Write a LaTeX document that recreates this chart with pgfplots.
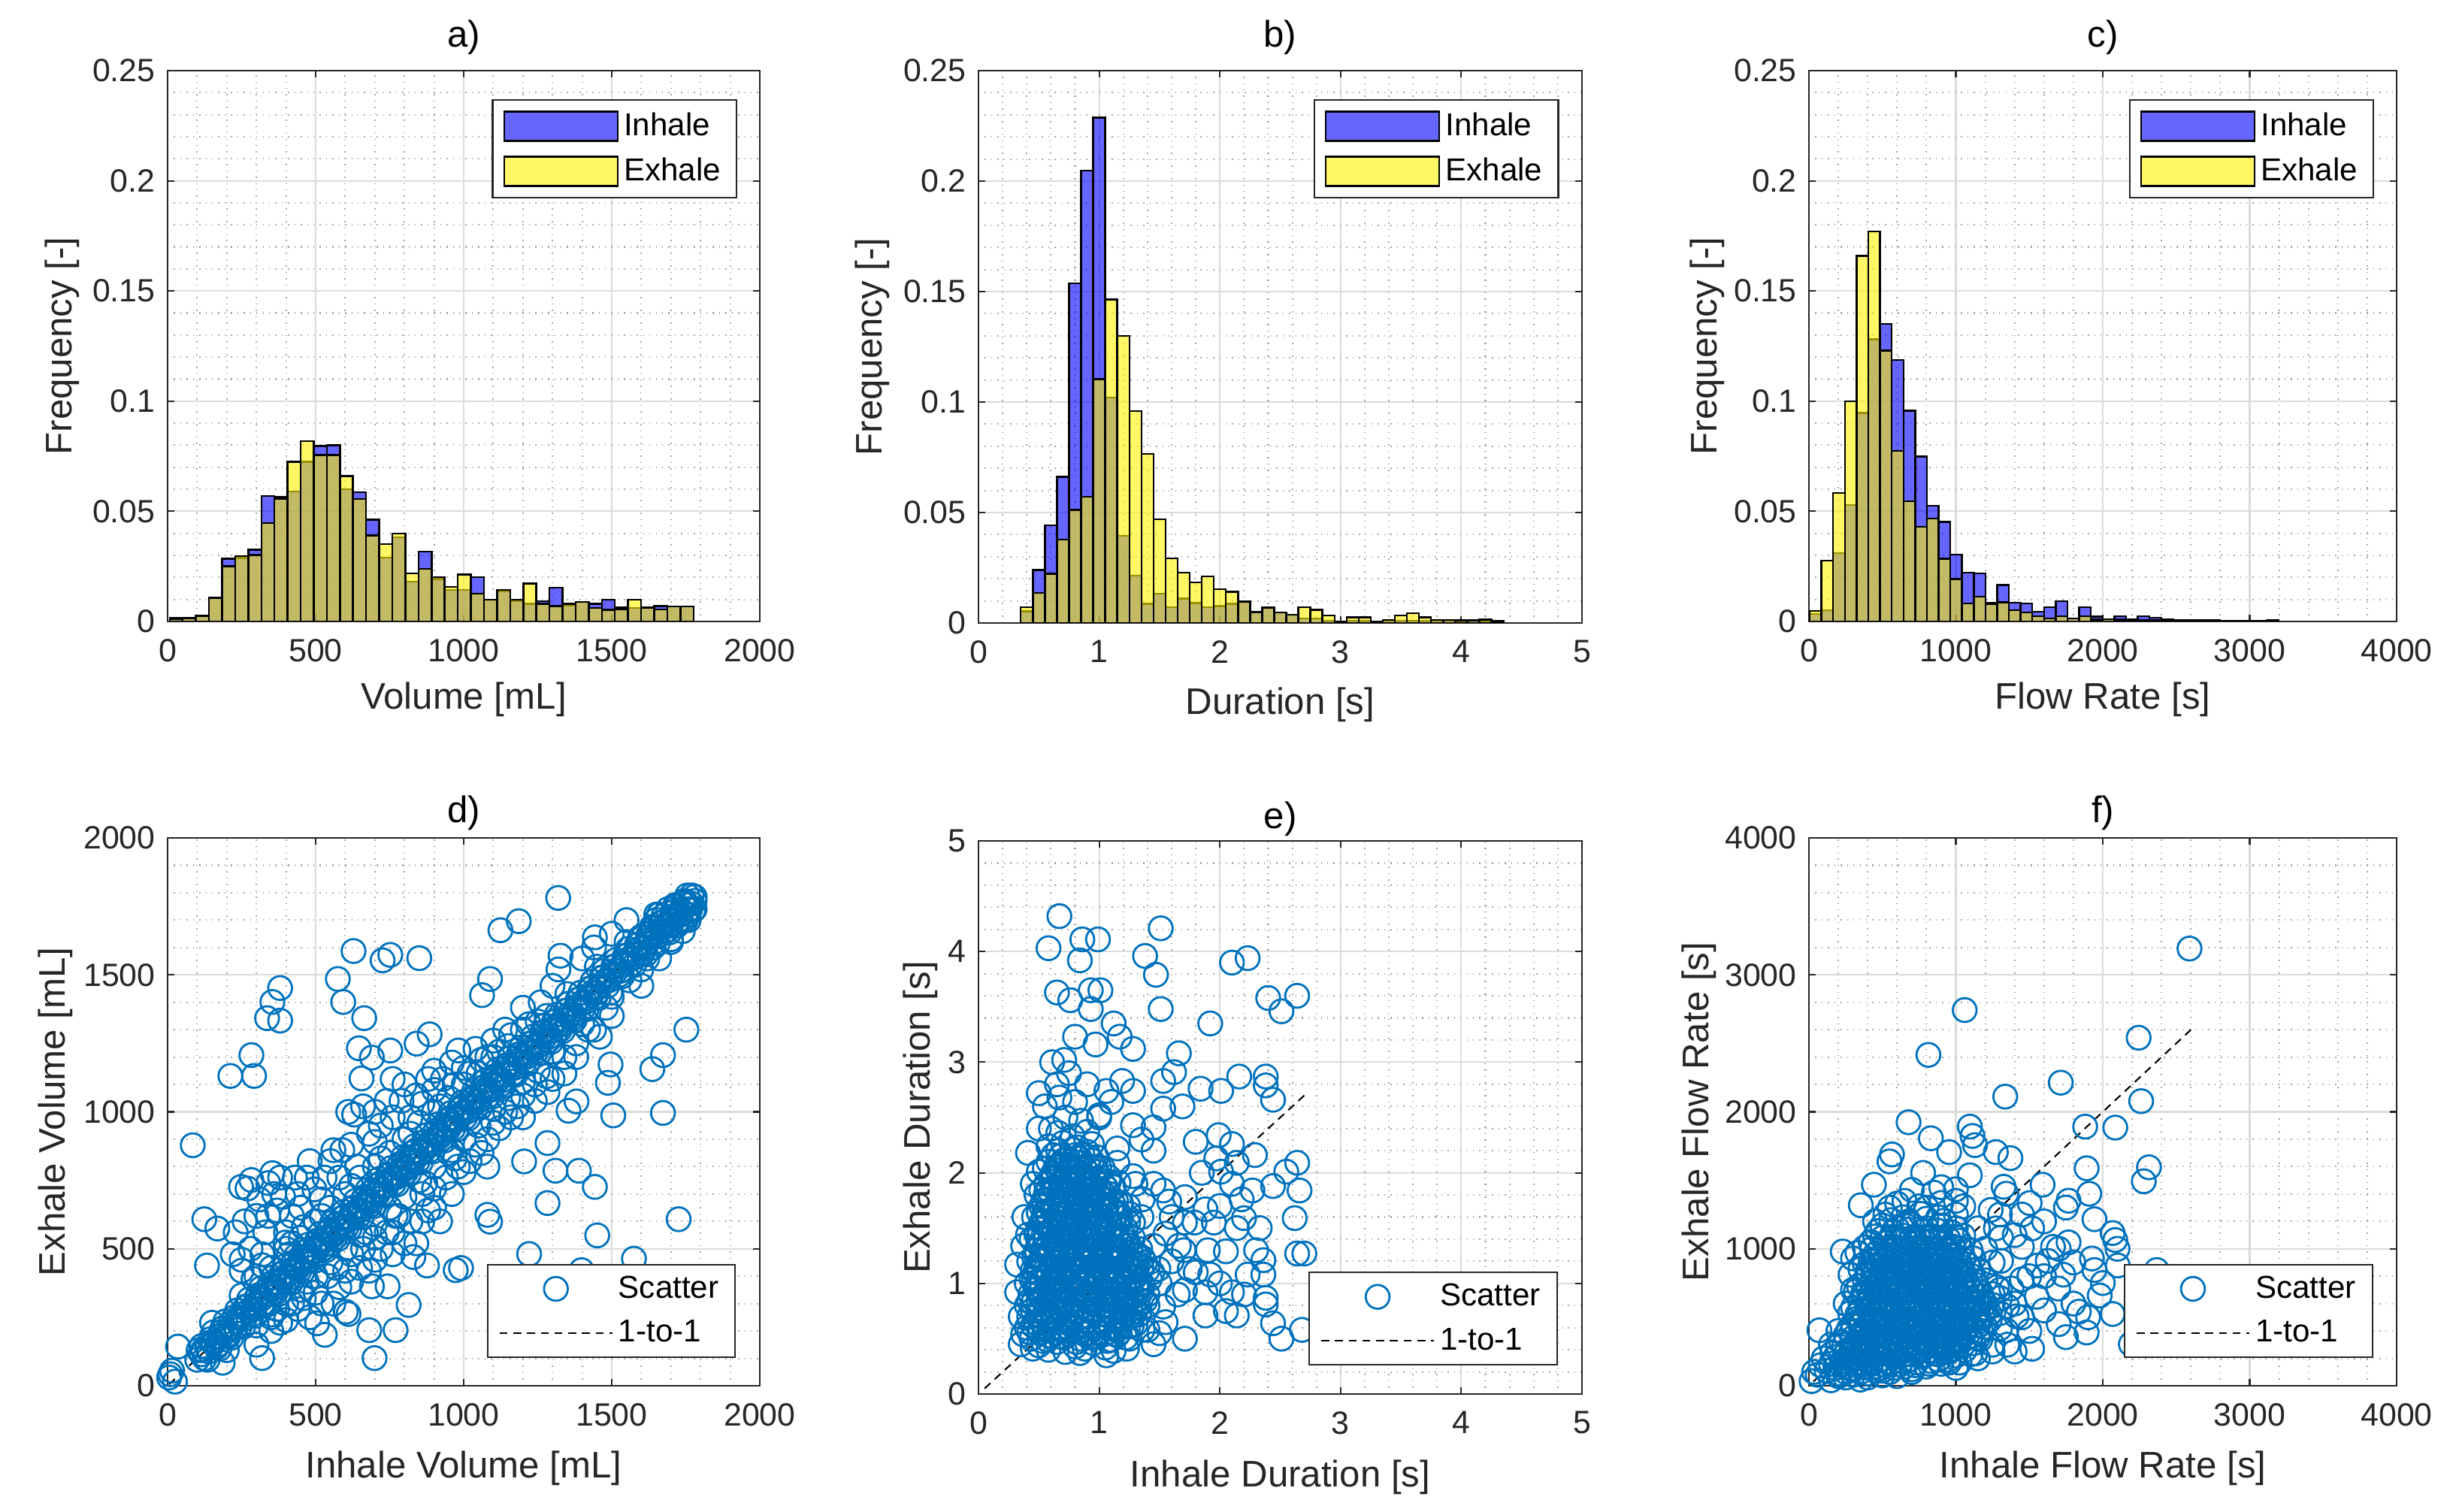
\documentclass[border=0pt]{standalone}
\usepackage{fontspec}
\setmainfont{Liberation Sans}
\usepackage{pgfplots}
\usepackage{pgfplotstable}
\pgfplotsset{compat=1.18}
\definecolor{mblue}{rgb}{0,0.447,0.741}
\definecolor{axgray}{rgb}{0.15,0.15,0.15}

\pgfplotstableread{
e inh exh
7 0.0017 0.0010
51.2 0.0015 0.0015
95.5 0.0025 0.0025
139.7 0.0110 0.0105
183.9 0.0284 0.0250
228.2 0.0288 0.0296
272.4 0.0325 0.0302
316.6 0.0569 0.0447
360.8 0.0566 0.0557
405.1 0.0590 0.0724
449.3 0.0725 0.0819
493.5 0.0797 0.0755
537.8 0.0800 0.0755
582.0 0.0600 0.0660
626.2 0.0587 0.0556
670.5 0.0462 0.0391
714.7 0.0290 0.0351
758.9 0.0382 0.0399
803.1 0.0181 0.0219
847.4 0.0317 0.0239
891.6 0.0193 0.0202
935.8 0.0144 0.0156
980.1 0.0144 0.0213
1024.3 0.0202 0.0127
1068.5 0.0099 0.0099
1112.8 0.0138 0.0144
1157.0 0.0092 0.0099
1201.2 0.0080 0.0173
1245.4 0.0092 0.0080
1289.7 0.0153 0.0070
1333.9 0.0072 0.0080
1378.1 0.0089 0.0089
1422.4 0.0080 0.0061
1466.6 0.0099 0.0053
1510.8 0.0063 0.0055
1555.1 0.0061 0.0099
1599.3 0.0063 0.0063
1643.5 0.0070 0.0055
1687.7 0.0069 0.0069
1732.0 0.0069 0.0069
1776.2 0 0
}\histA

\pgfplotstableread{
e inh exh
0.35 0.0052 0.0072
0.45 0.0240 0.0136
0.55 0.0443 0.0222
0.65 0.0662 0.0378
0.75 0.1538 0.0512
0.85 0.2047 0.0572
0.95 0.2288 0.1103
1.05 0.1020 0.1464
1.15 0.0395 0.1300
1.25 0.0214 0.0959
1.35 0.0086 0.0766
1.45 0.0133 0.0469
1.55 0.0072 0.0293
1.65 0.0110 0.0228
1.75 0.0090 0.0184
1.85 0.0072 0.0210
1.95 0.0076 0.0153
2.05 0.0086 0.0141
2.15 0.0098 0.0095
2.25 0.0050 0.0050
2.35 0.0069 0.0069
2.45 0.0047 0.0047
2.55 0.0038 0.0038
2.65 0.0020 0.0072
2.75 0.0020 0.0059
2.85 0.0010 0.0034
2.95 0.0007 0.0007
3.05 0.0010 0.0026
3.15 0.0010 0.0026
3.25 0.0005 0.0007
3.35 0.0010 0.0014
3.45 0.0010 0.0034
3.55 0.0010 0.0045
3.65 0.0010 0.0026
3.75 0.0010 0.0014
3.85 0.0010 0.0014
3.95 0.0005 0.0012
4.05 0.0010 0.0012
4.15 0.0005 0.0015
4.25 0.0005 0.0008
4.35 0 0
}\histB

\pgfplotstableread{
e inh exh
5 0.0035 0.0048
84.75 0.0051 0.0276
164.5 0.0310 0.0583
244.25 0.0529 0.1000
324 0.0946 0.1660
403.75 0.1280 0.1770
483.5 0.1350 0.1229
563.25 0.1186 0.0775
643 0.0956 0.0545
722.75 0.0748 0.0430
802.5 0.0525 0.0468
882.25 0.0452 0.0284
962 0.0304 0.0192
1041.75 0.0222 0.0081
1121.5 0.0219 0.0112
1201.25 0.0085 0.0080
1281 0.0166 0.0087
1360.75 0.0085 0.0051
1440.5 0.0081 0.0040
1520.25 0.0044 0.0024
1600 0.0065 0.0013
1679.75 0.0092 0.0024
1759.5 0.0013 0.0013
1839.25 0.0065 0.0024
1919 0.0022 0.0008
1998.75 0.0010 0.0010
2078.5 0.0024 0.0008
2158.25 0.0008 0.0008
2238 0.0024 0.0005
2317.75 0.0017 0.0005
2397.5 0.0008 0.0005
2477.25 0.0005 0.0005
2557 0.0005 0.0003
2636.75 0.0005 0.0003
2716.5 0.0003 0.0005
2796.25 0.0003 0.0003
2876 0.0003 0.0003
2955.75 0.0003 0.0003
3035.5 0.0002 0.0002
3115.25 0.0003 0.0005
3195 0 0
}\histC

\pgfplotsset{
 myaxis/.style={
  scale only axis,
  axis line style={axgray, line width=0.6pt},
  every tick/.style={axgray, line width=0.6pt},
  tick align=inside,
  major tick length=0.09cm,
  minor tick length=0pt,
  grid=both,
  major grid style={solid, black!14, line width=0.6pt},
  minor grid style={dotted, black!35, line width=0.6pt},
  minor x tick num=4, minor y tick num=4,
  scaled ticks=false,
  /pgf/number format/assume math mode=true,
  /pgf/number format/1000 sep={},
  tick label style={font=\fontsize{12.2}{14}\selectfont, text=axgray},
  xticklabel style={yshift=-0.11cm},
  yticklabel style={xshift=-0.04cm},
  label style={font=\fontsize{14}{16}\selectfont, text=axgray},
  title style={font=\fontsize{14}{16}\selectfont, text=black, at={(0.5,1.06)}, anchor=center, yshift=-6pt},
  legend cell align=left,
  legend style={draw=axgray, line width=0.6pt, fill=white, font=\fontsize{12}{14}\selectfont, text=black},
 },
 hist/.style={myaxis, ymin=0, ymax=0.25, ytick={0,0.05,0.1,0.15,0.2,0.25},
  yticklabel style={/pgf/number format/fixed, /pgf/number format/precision=2},
  ylabel={Frequency [-]},
  legend style={row sep=0.1cm, inner xsep=0.14cm, inner ysep=0.1cm, at={(0.962,0.948)}, anchor=north east},
 },
 inhbar/.style={ybar interval, fill=blue, fill opacity=0.6, draw=black, line width=0.7pt,
  legend image code/.code={\draw[##1] (0cm,-0.195cm) rectangle (1.51cm,0.195cm);}},
 exhbar/.style={ybar interval, fill=yellow, fill opacity=0.6, draw=black, line width=0.7pt,
  legend image code/.code={\draw[##1] (0cm,-0.195cm) rectangle (1.51cm,0.195cm);}},
 scat/.style={only marks, mark=o, mark size=4.5pt, color=mblue, line width=0.8pt,
  legend image code/.code={\draw[mark repeat=2,mark phase=2,##1] plot coordinates {(0cm,0cm) (0.75cm,0cm) (1.5cm,0cm)};}},
 oneline/.style={black, line width=0.6pt, dash pattern=on 3pt off 2.2pt,
  legend image code/.code={\draw[##1] (0cm,0cm) -- (1.5cm,0cm);}},
 scleg/.style={legend style={row sep=0.1cm, inner xsep=0.15cm, inner ysep=0.08cm, at={(0.96,0.051)}, anchor=south east}},
}

\begin{document}
\begin{tikzpicture}
\useasboundingbox (0,0) rectangle (32.68cm,20.11cm);

% ---------------- a ----------------
\begin{axis}[hist, at={(2.23cm,11.84cm)}, anchor=south west, width=7.88cm, height=7.33cm,
  xmin=0, xmax=2000, xtick={0,500,1000,1500,2000},
  xlabel={Volume [mL]}, title={a)},
  xlabel style={at={(axis description cs:0.5,-0.142)}, anchor=center},
  ylabel style={at={(axis description cs:-0.178,0.5)}, anchor=center}]
\addplot[inhbar] table[x=e, y=inh] {\histA};
\addplot[exhbar] table[x=e, y=exh] {\histA};
\legend{Inhale, Exhale}
\end{axis}

% ---------------- b ----------------
\begin{axis}[hist, at={(13.02cm,11.82cm)}, anchor=south west, width=8.03cm, height=7.35cm,
  xmin=0, xmax=5, xtick={0,1,2,3,4,5},
  xlabel={Duration [s]}, title={b)},
  xlabel style={at={(axis description cs:0.5,-0.148)}, anchor=center},
  ylabel style={at={(axis description cs:-0.176,0.5)}, anchor=center}]
\addplot[inhbar] table[x=e, y=inh] {\histB};
\addplot[exhbar] table[x=e, y=exh] {\histB};
\legend{Inhale, Exhale}
\end{axis}

% ---------------- c ----------------
\begin{axis}[hist, at={(24.07cm,11.84cm)}, anchor=south west, width=7.82cm, height=7.33cm,
  xmin=0, xmax=4000, xtick={0,1000,2000,3000,4000},
  xlabel={Flow Rate [s]}, title={c)},
  xlabel style={at={(axis description cs:0.5,-0.142)}, anchor=center},
  ylabel style={at={(axis description cs:-0.173,0.5)}, anchor=center}]
\addplot[inhbar] table[x=e, y=inh] {\histC};
\addplot[exhbar] table[x=e, y=exh] {\histC};
\legend{Inhale, Exhale}
\end{axis}

% ---------------- d ----------------
\begin{axis}[myaxis, scleg, at={(2.23cm,1.67cm)}, anchor=south west, width=7.88cm, height=7.29cm,
  xmin=0, xmax=2000, ymin=0, ymax=2000,
  xtick={0,500,1000,1500,2000}, ytick={0,500,1000,1500,2000},
  xlabel={Inhale Volume [mL]}, ylabel={Exhale Volume [mL]}, title={d)},
  title style={at={(0.5,1.045)}},
  xlabel style={at={(axis description cs:0.5,-0.15)}, anchor=center},
  ylabel style={at={(axis description cs:-0.19,0.5)}, anchor=center}]
\addplot[scat] coordinates {
(85,878) (212,1131) (292,1131) (283,1207) (336,1342) (380,1333) (354,1401) (380,1452)
(628,1587) (726,1553) (752,1573) (850,1561) (575,1485) (593,1401) (664,1342) (646,1232)
(690,1198) (752,1224) (841,1249) (885,1283) (655,1122) (1319,1781) (1186,1696) (1124,1663)
(1089,1485) (1062,1426) (1327,1570) (1443,1637) (1460,1274) (1496,1173) (1487,1106) (1505,987)
(1637,1156) (1673,1207) (1752,1300) (1673,996) (1726,608) (1451,549) (1575,464) (1221,481)
(1398,422) (1443,726) (1389,785) (1310,785) (1283,667) (1283,886) (1204,819) (1354,1004)
(1381,1038) (1283,1072) (982,1224) (991,430) (973,422) (1089,599) (1080,624) (876,439)
(814,295) (699,101) (681,203) (770,203) (531,186) (505,228) (602,270) (611,262)
(743,363) (690,363) (319,101) (186,84) (35,143) (9,42) (124,608) (168,574)
(133,439) (248,726) (283,751) (354,776) (478,473) (496,717) (398,523)
(5,30) (15,55) (25,15)
(100,95) (120,130) (140,125) (150,160) (170,150) (180,195) (200,185) (210,225) (230,215) (240,250)
(260,245) (270,290) (290,280) (300,320) (320,300) (330,345) (350,335) (360,380) (380,365) (390,410)
(410,395) (420,440) (440,430) (450,470) (470,455) (480,500) (500,490) (510,530) (530,515) (540,560)
(560,550) (570,590) (590,575) (600,620) (620,610) (630,650) (650,640) (660,680) (680,670) (690,710)
(710,700) (720,740) (740,730) (750,770) (770,760) (780,800) (800,790) (810,830) (830,820) (840,860)
(860,850) (870,890) (890,880) (900,920) (920,910) (930,950) (950,940) (960,980) (980,970) (990,1010)
(1010,1000) (1030,1045) (1050,1040) (1070,1090) (1090,1080) (1110,1130) (1130,1115) (1150,1170)
(1170,1160) (1190,1210) (1210,1200) (1230,1250) (1250,1240) (1270,1290) (1290,1275) (1310,1330)
(1330,1320) (1350,1370) (1370,1355) (1390,1410) (1410,1400) (1430,1450) (1450,1435) (1470,1490)
(1490,1480) (1510,1530) (1530,1515) (1550,1570) (1570,1560) (1590,1610) (1610,1600) (1630,1650)
(1650,1640) (1670,1690) (1690,1680) (1710,1730) (1730,1720) (1750,1765) (1770,1760) (1780,1785)
(1760,1740) (1720,1750) (1680,1660) (1640,1670)
(105,130) (125,100) (145,170) (165,140) (185,210) (205,180) (225,250) (245,220) (265,290) (285,260)
(305,330) (325,300) (345,370) (365,340) (385,410) (405,380) (425,450) (445,420) (465,490) (485,460)
(505,530) (525,500) (545,570) (565,540) (585,610) (605,580) (625,650) (645,620) (665,690) (685,660)
(705,730) (725,700) (745,770) (765,740) (785,810) (805,780) (825,850) (845,820) (865,890) (885,860)
(905,930) (925,900) (945,970) (965,940) (985,1010) (1005,980) (1025,1050) (1045,1020) (1065,1090)
(1085,1060) (1105,1130) (1125,1100) (1145,1170) (1165,1140) (1185,1210) (1205,1180) (1225,1250)
(1245,1220) (1265,1290) (1285,1260) (1305,1330) (1325,1300) (1345,1370) (1365,1340) (1385,1410)
(1405,1380) (1425,1450) (1445,1420) (1465,1490) (1485,1460) (1505,1530) (1525,1500) (1545,1570)
(1565,1540) (1585,1610) (1605,1580) (1625,1650) (1645,1620) (1665,1690) (1685,1660) (1705,1730)
(1725,1700) (1745,1770) (1765,1740)
(115,145) (135,95) (155,195) (175,135) (195,235) (215,175) (235,275) (255,215) (275,315) (295,255)
(315,355) (335,295) (355,395) (375,335) (395,435) (415,375) (435,475) (455,415) (475,515) (495,455)
(515,555) (535,495) (555,595) (575,535) (595,635) (615,575) (635,675) (655,615) (675,715) (695,655)
(715,755) (735,695) (755,795) (775,735) (795,835) (815,775) (835,875) (855,815) (875,915) (895,855)
(915,955) (935,895) (955,995) (975,935) (995,1035) (1015,975) (1035,1075) (1055,1015) (1075,1115)
(1095,1055) (1115,1155) (1135,1095) (1155,1195) (1175,1135) (1195,1235) (1215,1175) (1235,1275)
(1255,1215) (1275,1315) (1295,1255) (1315,1355) (1335,1295) (1355,1395) (1375,1335) (1395,1435)
(1415,1375) (1435,1475) (1455,1415) (1475,1515) (1495,1435) (1515,1555) (1535,1495) (1555,1595)
(1575,1535) (1595,1635) (1615,1575) (1635,1675) (1655,1615) (1675,1715) (1695,1655) (1715,1755)
(1735,1695) (1755,1790) (1775,1735)
(115,115) (135,140) (155,155) (175,180) (195,195) (215,215) (235,235) (255,260) (275,275) (295,295)
(315,315) (335,335) (355,355) (375,375) (395,395) (415,415) (435,435) (455,455) (475,475) (495,495)
(515,515) (535,535) (555,555) (575,575) (595,595) (615,615) (635,635) (655,655) (675,675) (695,695)
(715,715) (735,735) (755,755) (775,775) (795,795) (815,815) (835,835) (855,855) (875,875) (895,895)
(915,915) (935,935) (955,955) (975,975) (995,995) (1015,1015) (1035,1035) (1055,1055) (1075,1075)
(1095,1095) (1115,1115) (1135,1135) (1155,1155) (1175,1175) (1195,1195) (1215,1215) (1235,1235)
(1255,1255) (1275,1275) (1295,1295) (1315,1315) (1335,1335) (1355,1355) (1375,1375) (1395,1395)
(1415,1415) (1435,1435) (1455,1455) (1475,1475) (1495,1495) (1515,1515) (1535,1535) (1555,1555)
(1575,1575) (1595,1595) (1615,1615) (1635,1635) (1655,1655) (1675,1675) (1695,1695) (1715,1715)
(1735,1735) (1755,1755)
(300,400) (350,250) (400,500) (450,350) (500,600) (550,450) (600,700) (650,550) (700,800) (750,650)
(800,900) (850,750) (900,1000) (950,850) (1000,1100) (1050,950) (1100,1200) (1150,1050) (1200,1300)
(1250,1150) (320,440) (370,280) (420,520) (470,380) (520,620) (570,430) (620,730) (670,560) (720,830)
(770,620) (820,920) (870,740) (920,1020) (970,830)
(150,230) (200,130) (250,330) (300,220) (350,430) (400,300) (450,540) (500,400) (550,650) (600,500)
(650,760) (700,590) (750,850) (800,690) (850,960) (900,800) (950,1050) (1000,900) (1050,1140)
(1100,1010) (1150,1240) (1200,1110) (1250,1330) (1300,1220) (1350,1430) (1400,1320) (1450,1530)
(1500,1420) (1550,1620) (1600,1520) (1650,1720) (1700,1630) (1750,1700) (1770,1790)
(220,480) (250,420) (270,720) (300,620) (330,560) (360,700) (380,760) (420,620) (440,700) (460,580)
(480,820) (520,680) (560,860) (580,760) (620,880) (640,800) (680,920) (700,1000) (740,1040) (760,980)
(800,1100) (840,1060) (880,1120) (900,1150) (960,1180) (1000,1160) (1040,1230) (1060,1190) (1100,1260)
(1140,1300) (1200,1380) (1260,1400) (1300,1460) (1320,1520) (1400,1560) (1440,1600) (1500,1650) (1550,1700)
(300,150) (350,200) (380,230) (420,300) (460,320) (500,340) (540,400) (560,300) (600,420) (620,480)
(660,500) (680,420) (700,540) (740,560) (760,480) (780,620) (820,600) (840,520) (860,700) (880,640)
(900,720) (940,760) (960,860) (1000,780) (1040,880) (1080,900) (1100,960) (1140,1000) (1180,1020)
(1200,1060) (1240,1100) (1280,1130) (1340,1200) (1380,1250) (1420,1300) (1480,1380) (1560,1480)
(1620,1560) (1700,1620) (1760,1700)
(230,560) (260,600) (280,500) (310,680) (340,740) (370,640) (400,560) (430,760) (250,460) (290,390)
(320,480) (340,620) (390,690) (410,480) (450,650) (470,760) (500,600) (530,760) (550,820) (590,860)
(610,1000) (630,990) (660,1020) (700,890) (720,950) (760,1120) (790,1040) (820,980) (860,1030)
(900,1080) (930,1120) (970,1100) (1020,1140) (1080,1200) (1120,1220) (1160,1280) (1220,1320) (1280,1350)
(350,260) (400,240) (440,280) (480,250) (520,300) (580,360) (620,380) (650,430) (700,460) (720,500)
(760,560) (800,520) (830,470) (860,600) (900,650) (920,600) (960,700) (980,800) (1020,820) (1060,850)
(1080,800) (1120,940) (1160,980) (1200,980) (1240,1040) (1300,1120) (1340,1140) (1380,1200) (1440,1300)
(1500,1350) (1600,1460) (1660,1560) (1700,1680) (1740,1660) (1780,1740)
(1600,1640) (1640,1600) (1660,1720) (1700,1700) (1720,1680) (1740,1760) (1760,1720) (1780,1770)
(1690,1740) (1650,1700)
};
\addplot[oneline] coordinates {(5,5) (1785,1785)};
\legend{Scatter, 1-to-1}
\end{axis}

% ---------------- e ----------------
\begin{axis}[myaxis, scleg, at={(13.02cm,1.56cm)}, anchor=south west, width=8.03cm, height=7.36cm,
  xmin=0, xmax=5, ymin=0, ymax=5,
  xtick={0,1,2,3,4,5}, ytick={0,1,2,3,4,5},
  xlabel={Inhale Duration [s]}, ylabel={Exhale Duration [s]}, title={e)},
  title style={at={(0.5,1.04)}},
  xlabel style={at={(axis description cs:0.5,-0.15)}, anchor=center},
  ylabel style={at={(axis description cs:-0.096,0.5)}, anchor=center}]
\addplot[scat] coordinates {
(0.67,4.32) (0.58,4.03) (0.86,4.11) (0.99,4.11) (0.84,3.92) (1.51,4.21) (1.38,3.96) (1.47,3.79)
(1.51,3.48) (2.10,3.90) (2.23,3.94) (2.40,3.58) (2.64,3.60) (2.51,3.46) (1.92,3.35)
(0.65,3.63) (0.76,3.56) (0.93,3.65) (1.01,3.65) (0.93,3.48) (1.12,3.35) (1.28,3.12) (1.17,3.23)
(0.80,3.23) (0.97,3.16) (0.61,3.00) (0.71,3.02) (1.66,3.08) (1.62,2.91) (1.53,2.83) (1.19,2.83)
(1.28,2.74) (1.06,2.74) (1.10,2.64) (0.50,2.72) (0.67,2.68) (0.80,2.64) (1.84,2.76) (2.01,2.74)
(2.16,2.87) (2.38,2.87) (2.38,2.79) (2.44,2.66) (1.69,2.60) (1.53,2.58) (1.28,2.43) (1.45,2.41)
(1.80,2.28) (1.99,2.34) (2.10,2.26) (2.29,2.16) (1.97,2.13) (2.01,2.01) (2.14,2.09) (2.64,2.09)
(2.55,2.01) (2.66,1.84) (2.44,1.88) (2.62,1.59) (2.64,1.27) (2.70,1.27) (2.68,0.58) (2.51,0.50)
(2.44,0.64) (2.38,0.87) (2.38,0.81) (2.36,1.21) (2.33,1.50) (2.36,1.08) (2.05,1.29) (2.14,1.50)
(2.18,1.76) (2.27,1.84) (2.20,1.59) (2.05,0.75) (2.14,0.71) (2.10,0.92) (2.23,1.08) (1.92,1.08)
(1.88,0.92) (1.88,0.71) (1.71,0.94) (1.75,1.13) (1.71,0.50) (1.66,1.34) (1.79,1.55) (1.88,1.67)
(1.71,1.55) (1.53,1.84) (1.58,1.74) (1.71,1.78) (1.49,1.13) (1.53,0.79) (1.45,1.34) (1.40,0.58)
(1.28,0.71) (1.45,0.45) (1.23,0.41) (1.06,0.35) (0.84,0.37) (1.28,1.97) (1.36,1.76) (1.28,1.55)
(1.15,2.09) (1.15,2.22) (0.41,2.18) (0.50,2.01) (0.32,0.92) (0.32,1.17) (0.41,1.44) (0.37,1.34)
(0.37,0.54) (0.45,0.41)
(0.50,0.44) (0.65,0.47) (0.80,0.43) (0.95,0.46) (1.05,0.42)
(0.42,0.56) (0.58,0.53) (0.72,0.57) (0.88,0.54) (1.00,0.56) (1.15,0.53)
(0.48,0.64) (0.62,0.67) (0.76,0.63) (0.90,0.66) (1.04,0.64) (1.18,0.67) (1.30,0.63)
(0.45,0.76) (0.55,0.73) (0.68,0.77) (0.82,0.74) (0.95,0.76) (1.10,0.73) (1.22,0.77)
(0.42,0.84) (0.52,0.87) (0.64,0.83) (0.78,0.86) (0.90,0.84) (1.02,0.87) (1.14,0.83) (1.26,0.86) (1.38,0.84)
(0.47,0.96) (0.60,0.93) (0.72,0.97) (0.85,0.94) (0.97,0.96) (1.08,0.93) (1.20,0.97) (1.32,0.94)
(0.44,1.04) (0.56,1.07) (0.68,1.03) (0.80,1.06) (0.92,1.04) (1.04,1.07) (1.16,1.03) (1.28,1.06) (1.42,1.04)
(0.50,1.16) (0.62,1.13) (0.74,1.17) (0.86,1.14) (0.98,1.16) (1.10,1.13) (1.22,1.17) (1.35,1.14)
(0.46,1.24) (0.58,1.27) (0.70,1.23) (0.82,1.26) (0.94,1.24) (1.06,1.27) (1.18,1.23) (1.30,1.26)
(0.52,1.36) (0.64,1.33) (0.76,1.37) (0.88,1.34) (1.00,1.36) (1.12,1.33) (1.24,1.37)
(0.48,1.44) (0.60,1.47) (0.72,1.43) (0.84,1.46) (0.96,1.44) (1.08,1.47) (1.20,1.43)
(0.55,1.56) (0.67,1.53) (0.79,1.57) (0.91,1.54) (1.03,1.56) (1.15,1.53)
(0.50,1.64) (0.62,1.67) (0.74,1.63) (0.86,1.66) (0.98,1.64) (1.10,1.67) (1.25,1.63)
(0.57,1.76) (0.69,1.73) (0.81,1.77) (0.93,1.74) (1.05,1.76) (1.18,1.73)
(0.52,1.84) (0.64,1.87) (0.76,1.83) (0.88,1.86) (1.00,1.84) (1.12,1.87)
(0.60,1.96) (0.72,1.93) (0.84,1.97) (0.96,1.94) (1.08,1.96)
(0.55,2.04) (0.67,2.07) (0.79,2.03) (0.91,2.06) (1.03,2.04)
(0.62,2.16) (0.74,2.13) (0.86,2.17) (0.98,2.14)
(0.58,2.24) (0.70,2.27) (0.82,2.23) (0.94,2.26)
(0.66,2.36) (0.78,2.33) (0.90,2.37)
(0.72,2.50) (0.85,2.47) (1.00,2.52)
(0.58,0.40) (0.72,0.38) (0.88,0.41) (1.12,0.39)
(0.44,0.50) (0.57,0.49) (0.70,0.51) (0.84,0.50) (0.98,0.52) (1.10,0.49) (1.22,0.51)
(0.40,0.60) (0.54,0.61) (0.68,0.59) (0.82,0.60) (0.96,0.62) (1.10,0.59) (1.24,0.61) (1.36,0.58)
(0.42,0.70) (0.58,0.71) (0.72,0.69) (0.86,0.70) (1.00,0.72) (1.14,0.69) (1.28,0.71)
(0.40,0.80) (0.50,0.81) (0.62,0.79) (0.74,0.81) (0.86,0.79) (0.98,0.81) (1.08,0.79) (1.20,0.81) (1.32,0.79)
(0.43,0.90) (0.55,0.91) (0.67,0.89) (0.79,0.91) (0.91,0.89) (1.03,0.91) (1.15,0.89) (1.27,0.91) (1.40,0.90)
(0.40,1.00) (0.52,1.01) (0.64,0.99) (0.76,1.01) (0.88,0.99) (1.00,1.01) (1.12,0.99) (1.24,1.01) (1.36,0.99)
(0.47,1.10) (0.58,1.11) (0.70,1.09) (0.82,1.11) (0.94,1.09) (1.06,1.11) (1.18,1.09) (1.30,1.11) (1.44,1.10)
(0.42,1.20) (0.54,1.21) (0.66,1.19) (0.78,1.21) (0.90,1.19) (1.02,1.21) (1.14,1.19) (1.26,1.21) (1.38,1.19)
(0.48,1.30) (0.60,1.31) (0.72,1.29) (0.84,1.31) (0.96,1.29) (1.08,1.31) (1.20,1.29) (1.34,1.31)
(0.44,1.40) (0.56,1.41) (0.68,1.39) (0.80,1.41) (0.92,1.39) (1.04,1.41) (1.16,1.39) (1.28,1.41)
(0.50,1.50) (0.62,1.51) (0.74,1.49) (0.86,1.51) (0.98,1.49) (1.10,1.51) (1.22,1.49)
(0.46,1.60) (0.58,1.61) (0.70,1.59) (0.82,1.61) (0.94,1.59) (1.06,1.61) (1.18,1.59)
(0.52,1.70) (0.64,1.71) (0.76,1.69) (0.88,1.71) (1.00,1.69) (1.12,1.71) (1.24,1.70)
(0.48,1.80) (0.60,1.81) (0.72,1.79) (0.84,1.81) (0.96,1.79) (1.08,1.81)
(0.56,1.90) (0.68,1.91) (0.80,1.89) (0.92,1.91) (1.04,1.89) (1.16,1.91)
(0.62,2.00) (0.74,2.01) (0.86,1.99) (0.98,2.01)
(0.58,2.10) (0.70,2.11) (0.82,2.09) (0.94,2.11)
(0.66,2.20) (0.78,2.21) (0.90,2.19)
(0.51,0.55) (0.64,0.55) (0.77,0.56) (0.91,0.55) (1.04,0.54) (1.17,0.56)
(0.47,0.65) (0.61,0.64) (0.75,0.66) (0.89,0.65) (1.03,0.66) (1.17,0.64)
(0.50,0.75) (0.64,0.76) (0.78,0.74) (0.92,0.75) (1.06,0.76) (1.18,0.74) (1.30,0.75)
(0.46,0.85) (0.58,0.86) (0.70,0.84) (0.84,0.85) (0.96,0.86) (1.08,0.84) (1.20,0.85) (1.32,0.86)
(0.49,0.95) (0.61,0.96) (0.73,0.94) (0.85,0.95) (0.97,0.96) (1.09,0.94) (1.21,0.95) (1.33,0.96)
(0.46,1.05) (0.58,1.06) (0.70,1.04) (0.82,1.05) (0.94,1.06) (1.06,1.04) (1.18,1.05) (1.30,1.06)
(0.48,1.15) (0.60,1.16) (0.72,1.14) (0.84,1.15) (0.96,1.16) (1.08,1.14) (1.20,1.15) (1.32,1.16)
(0.48,1.25) (0.60,1.26) (0.72,1.24) (0.84,1.25) (0.96,1.26) (1.08,1.24) (1.20,1.25) (1.32,1.26)
(0.50,1.35) (0.62,1.36) (0.74,1.34) (0.86,1.35) (0.98,1.36) (1.10,1.34) (1.22,1.35)
(0.54,1.45) (0.66,1.46) (0.78,1.44) (0.90,1.45) (1.02,1.46) (1.14,1.44)
(0.52,1.55) (0.64,1.56) (0.76,1.54) (0.88,1.55) (1.00,1.56) (1.12,1.54) (1.24,1.55)
(0.56,1.65) (0.68,1.66) (0.80,1.64) (0.92,1.65) (1.04,1.66) (1.16,1.64)
(0.54,1.75) (0.66,1.76) (0.78,1.74) (0.90,1.75) (1.02,1.76) (1.14,1.74)
(0.58,1.85) (0.70,1.86) (0.82,1.84) (0.94,1.85) (1.06,1.86)
(0.62,1.95) (0.74,1.96) (0.86,1.94) (0.98,1.95)
(0.64,2.05) (0.76,2.06) (0.88,2.04) (1.00,2.05)
(0.68,2.15) (0.80,2.16) (0.92,2.14)
(0.53,0.48) (0.67,0.52) (0.81,0.47) (0.93,0.51) (1.07,0.48)
(0.45,0.62) (0.59,0.58) (0.73,0.61) (0.87,0.58) (1.01,0.61) (1.15,0.58) (1.27,0.62)
(0.49,0.72) (0.63,0.70) (0.77,0.72) (0.91,0.70) (1.05,0.72) (1.19,0.70) (1.33,0.72)
(0.45,0.82) (0.57,0.81) (0.69,0.83) (0.81,0.81) (0.93,0.83) (1.05,0.81) (1.17,0.83) (1.29,0.81)
(0.51,0.92) (0.63,0.93) (0.75,0.91) (0.87,0.93) (0.99,0.91) (1.11,0.93) (1.23,0.91) (1.35,0.93)
(0.49,1.02) (0.61,1.03) (0.73,1.01) (0.85,1.03) (0.97,1.01) (1.09,1.03) (1.21,1.01) (1.33,1.03)
(0.45,1.12) (0.56,1.13) (0.68,1.11) (0.80,1.13) (0.92,1.11) (1.04,1.13) (1.16,1.11) (1.28,1.13) (1.40,1.12)
(0.52,1.22) (0.64,1.23) (0.76,1.21) (0.88,1.23) (1.00,1.21) (1.12,1.23) (1.24,1.21) (1.36,1.23)
(0.54,1.32) (0.66,1.33) (0.78,1.31) (0.90,1.33) (1.02,1.31) (1.14,1.33) (1.26,1.31)
(0.50,1.42) (0.62,1.43) (0.74,1.41) (0.86,1.43) (0.98,1.41) (1.10,1.43) (1.22,1.41)
(0.56,1.52) (0.68,1.53) (0.80,1.51) (0.92,1.53) (1.04,1.51) (1.16,1.53)
(0.54,1.62) (0.66,1.63) (0.78,1.61) (0.90,1.63) (1.02,1.61) (1.14,1.63)
(0.58,1.72) (0.70,1.73) (0.82,1.71) (0.94,1.73) (1.06,1.71) (1.18,1.72)
(0.56,1.82) (0.68,1.83) (0.80,1.81) (0.92,1.83) (1.04,1.81)
(0.60,1.92) (0.72,1.93) (0.84,1.91) (0.96,1.93) (1.08,1.92)
(0.66,2.02) (0.78,2.03) (0.90,2.01)
(0.72,2.12) (0.84,2.13)
(1.35,1.60) (1.45,1.90) (1.55,1.45) (1.60,1.20) (1.50,1.00) (1.40,0.80) (1.55,0.65) (1.65,0.90)
(1.35,2.30) (1.45,2.20) (1.30,1.90) (1.60,1.60) (1.70,1.30) (1.80,1.10) (1.90,1.30) (2.00,1.00)
(2.20,0.90) (2.30,1.30) (2.00,1.70) (2.10,1.90) (1.85,2.00) (1.95,1.55) (1.25,0.50) (1.50,0.55)
(0.35,0.70) (0.35,0.45) (0.38,1.60) (0.45,1.90) (0.50,2.40) (0.55,2.60) (0.65,2.80) (0.75,2.90)
(0.90,2.80) (1.00,2.50) (0.60,2.40)
};
\addplot[oneline] coordinates {(0.05,0.05) (2.7,2.7)};
\legend{Scatter, 1-to-1}
\end{axis}

% ---------------- f ----------------
\begin{axis}[myaxis, scleg, at={(24.07cm,1.67cm)}, anchor=south west, width=7.82cm, height=7.29cm,
  xmin=0, xmax=4000, ymin=0, ymax=4000,
  xtick={0,1000,2000,3000,4000}, ytick={0,1000,2000,3000,4000},
  xlabel={Inhale Flow Rate [s]}, ylabel={Exhale Flow Rate [s]}, title={f)},
  title style={at={(0.5,1.045)}},
  xlabel style={at={(axis description cs:0.5,-0.15)}, anchor=center},
  ylabel style={at={(axis description cs:-0.187,0.5)}, anchor=center}]
\addplot[scat] coordinates {
(2590,3192) (1060,2743) (813,2416) (2244,2541) (1714,2213) (1336,2111) (2261,2078) (2085,1885)
(1880,1892) (678,1924) (830,1807) (954,1706) (1095,1892) (1113,1824) (1130,1757) (1272,1706)
(1371,1662) (565,1689) (548,1638) (1890,1588) (2314,1595) (2279,1493) (1590,1468) (1908,1402)
(1502,1334) (1749,1301) (1767,1351) (1943,1216) (1095,1537) (777,1554) (442,1468) (353,1318)
(1325,1453) (1343,1402) (2067,1115) (2085,1064) (2102,878) (1926,929) (1943,845) (1979,659)
(2067,524) (1837,541) (1890,389) (1749,355) (1519,270) (2191,304) (2367,845)
(1661,1014) (1767,1047) (1731,811) (1625,912) (1696,710) (1449,1014) (1519,1149) (1555,878)
(1449,777) (1307,912) (1378,710) (1413,507) (1343,405) (1237,1284) (1272,1149) (1307,1081)
(954,169) (1025,169) (919,304) (1131,236) (1166,338) (230,980) (283,811) (71,405) (35,101) (18,34)
(150,40) (250,60) (350,45)
(120,110) (200,90) (300,115) (400,90) (500,110)
(150,160) (250,140) (350,165) (450,140) (550,160) (650,140) (900,160)
(180,210) (280,190) (380,215) (480,190) (580,210) (680,190) (780,215) (880,190)
(200,290) (300,270) (400,295) (500,270) (600,290) (700,270) (800,295) (900,270) (1000,290)
(250,370) (350,350) (450,375) (550,350) (650,370) (750,350) (850,375) (950,350) (1050,370) (1150,350)
(300,450) (400,430) (500,455) (600,430) (700,450) (800,430) (900,455) (1000,430) (1100,450) (1200,430)
(280,530) (380,510) (480,535) (580,510) (680,530) (780,510) (880,535) (980,510) (1080,530) (1180,510) (1300,530)
(350,610) (450,590) (550,615) (650,590) (750,610) (850,590) (950,615) (1050,590) (1150,610) (1250,590)
(320,690) (420,670) (520,695) (620,670) (720,690) (820,670) (920,695) (1020,670) (1120,690) (1250,670)
(380,770) (480,750) (580,775) (680,750) (780,770) (880,750) (980,775) (1080,750) (1200,770)
(350,850) (450,830) (550,855) (650,830) (750,850) (850,830) (950,855) (1050,830) (1150,850)
(300,930) (420,910) (520,935) (620,910) (720,930) (820,910) (920,935) (1020,910) (1120,930)
(380,1010) (480,990) (580,1015) (680,990) (780,1010) (880,990) (980,1015) (1100,990)
(450,1090) (550,1070) (650,1095) (750,1070) (850,1090) (950,1070) (1050,1095)
(500,1170) (600,1150) (700,1175) (800,1150) (900,1170) (1000,1150)
(520,1250) (640,1230) (760,1255) (880,1230) (1000,1250)
(600,1330) (750,1310) (900,1335) (1050,1310)
(700,1430) (850,1410) (1000,1435)
(200,70) (300,80) (400,60) (500,75) (600,70)
(180,130) (280,125) (380,135) (480,125) (580,130) (700,120) (800,140) (1000,130)
(160,240) (250,230) (350,250) (450,235) (550,245) (650,230) (750,250) (850,235) (950,245) (1100,230)
(220,320) (320,310) (420,330) (520,315) (620,325) (720,310) (820,330) (920,315) (1020,325) (1120,310) (1250,300)
(270,410) (370,400) (470,420) (570,405) (670,415) (770,400) (870,420) (970,405) (1070,415) (1170,400) (1300,420)
(330,490) (430,480) (530,500) (630,485) (730,495) (830,480) (930,500) (1030,485) (1130,495) (1230,480)
(300,570) (400,560) (500,580) (600,565) (700,575) (800,560) (900,580) (1000,565) (1100,575) (1200,560) (1350,580)
(370,650) (470,640) (570,660) (670,645) (770,655) (870,640) (970,660) (1070,645) (1170,655) (1300,640)
(340,730) (440,720) (540,740) (640,725) (740,735) (840,720) (940,740) (1040,725) (1140,735) (1280,720)
(400,810) (500,800) (600,820) (700,805) (800,815) (900,800) (1000,820) (1100,805)
(380,890) (480,880) (580,900) (680,885) (780,895) (880,880) (980,900) (1080,885)
(330,970) (450,960) (550,980) (650,965) (750,975) (850,960) (950,980)
(420,1050) (520,1040) (620,1060) (720,1045) (820,1055) (920,1040) (1020,1060)
(470,1130) (570,1120) (670,1140) (770,1125) (870,1135) (970,1120)
(560,1210) (680,1200) (800,1220) (920,1205)
(250,100) (350,100) (450,110) (550,100) (700,100)
(230,180) (330,170) (430,180) (530,175) (630,180) (730,170) (830,180) (950,190)
(260,260) (360,270) (460,255) (560,265) (660,255) (760,270) (860,255) (960,265) (1060,260)
(300,350) (400,340) (500,360) (600,345) (700,355) (800,340) (900,360) (1000,345) (1100,355)
(350,440) (450,445) (550,440) (650,445) (750,440) (850,445) (950,440) (1050,445) (1150,440)
(330,520) (430,525) (530,520) (630,525) (730,520) (830,525) (930,520) (1030,525) (1130,520) (1230,525)
(400,600) (500,605) (600,600) (700,605) (800,600) (900,605) (1000,600) (1100,605) (1200,600)
(370,680) (470,685) (570,680) (670,685) (770,680) (870,685) (970,680) (1070,685) (1170,680)
(430,760) (530,765) (630,760) (730,765) (830,760) (930,765) (1030,760) (1130,765)
(400,840) (500,845) (600,840) (700,845) (800,840) (900,845) (1000,840) (1100,845)
(450,920) (550,925) (650,920) (750,925) (850,920) (950,925) (1050,920)
(430,1000) (530,1005) (630,1000) (730,1005) (830,1000) (930,1005) (1030,1000)
(500,1080) (600,1085) (700,1080) (800,1085) (900,1080) (1000,1085)
(220,150) (320,150) (420,155) (520,150) (620,155) (720,150) (820,160)
(280,230) (380,225) (480,230) (580,225) (680,230) (780,225) (880,230) (1000,220)
(240,300) (340,295) (440,300) (540,295) (640,300) (740,295) (840,300) (940,295) (1050,300)
(290,390) (390,385) (490,390) (590,385) (690,390) (790,385) (890,390) (990,385) (1090,390)
(360,470) (460,465) (560,470) (660,465) (760,470) (860,465) (960,470) (1060,465) (1160,470)
(350,550) (450,545) (550,550) (650,545) (750,550) (850,545) (950,550) (1050,545) (1150,550)
(420,630) (520,625) (620,630) (720,625) (820,630) (920,625) (1020,630) (1120,625)
(400,710) (500,705) (600,710) (700,705) (800,710) (900,705) (1000,710) (1100,705)
(460,790) (560,785) (660,790) (760,785) (860,790) (960,785) (1060,790)
(430,870) (530,865) (630,870) (730,865) (830,870) (930,865) (1030,870)
(500,950) (600,945) (700,950) (800,945) (900,950) (1000,945)
(1200,600) (1300,700) (1400,600) (1450,500) (1500,400) (1550,650) (1600,550) (1350,300) (1250,250)
(1150,200) (1400,250) (1500,800) (1600,800) (1200,1000) (1250,900) (1400,1100) (1150,1150) (1300,1250)
(1450,1250) (1600,1200) (1700,1000) (1800,900) (1800,600) (1700,450) (1900,500) (2000,750) (2100,1000)
(1000,1350) (900,1450) (800,1300) (650,1350) (550,1300) (450,1200) (300,700) (250,600) (200,400)
(150,300) (100,200) (80,150) (60,80) (250,180) (350,150)
};
\addplot[oneline] coordinates {(30,30) (2600,2600)};
\legend{Scatter, 1-to-1}
\end{axis}
\end{tikzpicture}
\end{document}
